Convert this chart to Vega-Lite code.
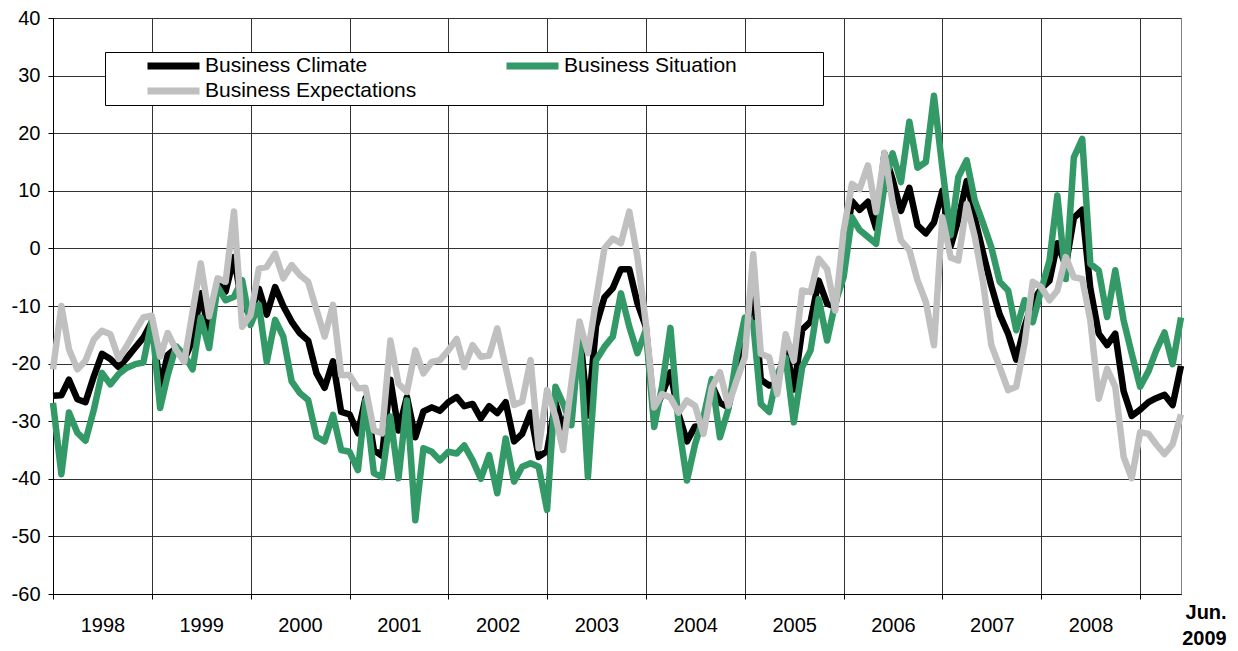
{
  "$schema": "https://vega.github.io/schema/vega-lite/v6.json",
  "width": 1128,
  "height": 576,
  "autosize": {"type": "none"},
  "padding": {"left": 53, "top": 18, "right": 57, "bottom": 57},
  "background": "#ffffff",
  "config": {"view": {"stroke": "#808080", "strokeWidth": 1}, "font": "Liberation Sans"},
  "data": {
    "format": {"parse": {"m": "date"}},
    "values": [
      {"m": "1998-01-01", "climate": -25.6, "situation": -26.8, "expectations": -21},
      {"m": "1998-02-01", "climate": -25.5, "situation": -39.2, "expectations": -10},
      {"m": "1998-03-01", "climate": -22.8, "situation": -28.5, "expectations": -17.5},
      {"m": "1998-04-01", "climate": -26.2, "situation": -32, "expectations": -21},
      {"m": "1998-05-01", "climate": -26.7, "situation": -33.4, "expectations": -19.5},
      {"m": "1998-06-01", "climate": -22.2, "situation": -28, "expectations": -15.8},
      {"m": "1998-07-01", "climate": -18.3, "situation": -21.6, "expectations": -14.3},
      {"m": "1998-08-01", "climate": -19.2, "situation": -23.6, "expectations": -14.9},
      {"m": "1998-09-01", "climate": -20.6, "situation": -21.8, "expectations": -19.2},
      {"m": "1998-10-01", "climate": -19, "situation": -20.7, "expectations": -16.9},
      {"m": "1998-11-01", "climate": -17.2, "situation": -20.1, "expectations": -14.3},
      {"m": "1998-12-01", "climate": -15.5, "situation": -19.8, "expectations": -12},
      {"m": "1999-01-01", "climate": -12.8, "situation": -12.6, "expectations": -11.7},
      {"m": "1999-02-01", "climate": -24, "situation": -27.7, "expectations": -18.8},
      {"m": "1999-03-01", "climate": -18.5, "situation": -22, "expectations": -14.7},
      {"m": "1999-04-01", "climate": -17.3, "situation": -17, "expectations": -17.6},
      {"m": "1999-05-01", "climate": -19.3, "situation": -18.5, "expectations": -19.7},
      {"m": "1999-06-01", "climate": -16, "situation": -21, "expectations": -11},
      {"m": "1999-07-01", "climate": -7.8, "situation": -12, "expectations": -2.6},
      {"m": "1999-08-01", "climate": -14.5, "situation": -17.3, "expectations": -11.8},
      {"m": "1999-09-01", "climate": -6, "situation": -6.6, "expectations": -5.2},
      {"m": "1999-10-01", "climate": -7.5, "situation": -9, "expectations": -5.8},
      {"m": "1999-11-01", "climate": -1.5, "situation": -8.4, "expectations": 6.4},
      {"m": "1999-12-01", "climate": -9.8, "situation": -5.5, "expectations": -13.6},
      {"m": "2000-01-01", "climate": -11.5, "situation": -13.3, "expectations": -11.6},
      {"m": "2000-02-01", "climate": -7, "situation": -9.8, "expectations": -3.5},
      {"m": "2000-03-01", "climate": -11.5, "situation": -19.7, "expectations": -3.2},
      {"m": "2000-04-01", "climate": -6.7, "situation": -12.4, "expectations": -0.9},
      {"m": "2000-05-01", "climate": -10, "situation": -15.3, "expectations": -5.2},
      {"m": "2000-06-01", "climate": -12.7, "situation": -23.1, "expectations": -2.9},
      {"m": "2000-07-01", "climate": -14.7, "situation": -25.1, "expectations": -4.6},
      {"m": "2000-08-01", "climate": -16, "situation": -26.3, "expectations": -5.8},
      {"m": "2000-09-01", "climate": -21.7, "situation": -32.7, "expectations": -10.7},
      {"m": "2000-10-01", "climate": -24.2, "situation": -33.5, "expectations": -15.3},
      {"m": "2000-11-01", "climate": -19.6, "situation": -28.9, "expectations": -9.8},
      {"m": "2000-12-01", "climate": -28.4, "situation": -35, "expectations": -22},
      {"m": "2001-01-01", "climate": -28.8, "situation": -35.3, "expectations": -22},
      {"m": "2001-02-01", "climate": -32.1, "situation": -38.5, "expectations": -24.3},
      {"m": "2001-03-01", "climate": -26, "situation": -26.4, "expectations": -24.2},
      {"m": "2001-04-01", "climate": -35, "situation": -39, "expectations": -31.6},
      {"m": "2001-05-01", "climate": -36, "situation": -39.7, "expectations": -32.1},
      {"m": "2001-06-01", "climate": -22.8, "situation": -29.2, "expectations": -16},
      {"m": "2001-07-01", "climate": -31.6, "situation": -39.9, "expectations": -23.5},
      {"m": "2001-08-01", "climate": -25.8, "situation": -26.4, "expectations": -24.9},
      {"m": "2001-09-01", "climate": -32.8, "situation": -47.2, "expectations": -17.7},
      {"m": "2001-10-01", "climate": -28.3, "situation": -34.7, "expectations": -21.7},
      {"m": "2001-11-01", "climate": -27.6, "situation": -35.3, "expectations": -19.7},
      {"m": "2001-12-01", "climate": -28.2, "situation": -36.8, "expectations": -19.4},
      {"m": "2002-01-01", "climate": -26.7, "situation": -35.3, "expectations": -17.7},
      {"m": "2002-02-01", "climate": -25.8, "situation": -35.6, "expectations": -15.7},
      {"m": "2002-03-01", "climate": -27.4, "situation": -34.2, "expectations": -20.6},
      {"m": "2002-04-01", "climate": -27, "situation": -36.8, "expectations": -16.8},
      {"m": "2002-05-01", "climate": -29.5, "situation": -40, "expectations": -18.8},
      {"m": "2002-06-01", "climate": -27.4, "situation": -35.9, "expectations": -18.6},
      {"m": "2002-07-01", "climate": -28.6, "situation": -42.5, "expectations": -13.9},
      {"m": "2002-08-01", "climate": -26.7, "situation": -33, "expectations": -20.6},
      {"m": "2002-09-01", "climate": -33.5, "situation": -40.5, "expectations": -27.2},
      {"m": "2002-10-01", "climate": -32.2, "situation": -37.9, "expectations": -26.6},
      {"m": "2002-11-01", "climate": -28.5, "situation": -37.3, "expectations": -19.4},
      {"m": "2002-12-01", "climate": -36.2, "situation": -37.9, "expectations": -34.7},
      {"m": "2003-01-01", "climate": -35.2, "situation": -45.4, "expectations": -24.6},
      {"m": "2003-02-01", "climate": -26.8, "situation": -24, "expectations": -29.2},
      {"m": "2003-03-01", "climate": -31.3, "situation": -26.9, "expectations": -35},
      {"m": "2003-04-01", "climate": -26.5, "situation": -30.7, "expectations": -23.4},
      {"m": "2003-05-01", "climate": -14, "situation": -14.8, "expectations": -12.7},
      {"m": "2003-06-01", "climate": -29, "situation": -39.7, "expectations": -18.2},
      {"m": "2003-07-01", "climate": -13.5, "situation": -19.4, "expectations": -9},
      {"m": "2003-08-01", "climate": -8.5, "situation": -17.1, "expectations": 0},
      {"m": "2003-09-01", "climate": -6.9, "situation": -15.3, "expectations": 1.7},
      {"m": "2003-10-01", "climate": -3.6, "situation": -7.8, "expectations": 0.9},
      {"m": "2003-11-01", "climate": -3.6, "situation": -13.6, "expectations": 6.4},
      {"m": "2003-12-01", "climate": -9.5, "situation": -18.2, "expectations": -1.5},
      {"m": "2004-01-01", "climate": -13.6, "situation": -14.2, "expectations": -13},
      {"m": "2004-02-01", "climate": -28.5, "situation": -31, "expectations": -27.6},
      {"m": "2004-03-01", "climate": -25.3, "situation": -24, "expectations": -25.3},
      {"m": "2004-04-01", "climate": -21.5, "situation": -13.8, "expectations": -25.9},
      {"m": "2004-05-01", "climate": -28.8, "situation": -30.5, "expectations": -28.5},
      {"m": "2004-06-01", "climate": -33.5, "situation": -40.3, "expectations": -26.4},
      {"m": "2004-07-01", "climate": -30.9, "situation": -34, "expectations": -27.3},
      {"m": "2004-08-01", "climate": -31, "situation": -29.3, "expectations": -32.2},
      {"m": "2004-09-01", "climate": -23.7, "situation": -22.7, "expectations": -24.1},
      {"m": "2004-10-01", "climate": -26.8, "situation": -32.8, "expectations": -21.5},
      {"m": "2004-11-01", "climate": -27.6, "situation": -27.9, "expectations": -27.3},
      {"m": "2004-12-01", "climate": -21.5, "situation": -18.9, "expectations": -23},
      {"m": "2005-01-01", "climate": -15.7, "situation": -12, "expectations": -18.9},
      {"m": "2005-02-01", "climate": -7, "situation": -13, "expectations": -1},
      {"m": "2005-03-01", "climate": -22.8, "situation": -27, "expectations": -18.3},
      {"m": "2005-04-01", "climate": -23.8, "situation": -28.4, "expectations": -18.9},
      {"m": "2005-05-01", "climate": -23.5, "situation": -21.8, "expectations": -25.3},
      {"m": "2005-06-01", "climate": -17, "situation": -19, "expectations": -14.9},
      {"m": "2005-07-01", "climate": -24.5, "situation": -30.2, "expectations": -19.5},
      {"m": "2005-08-01", "climate": -14.1, "situation": -20.6, "expectations": -7.3},
      {"m": "2005-09-01", "climate": -12.7, "situation": -17.7, "expectations": -7.6},
      {"m": "2005-10-01", "climate": -5.6, "situation": -8.8, "expectations": -1.8},
      {"m": "2005-11-01", "climate": -9.6, "situation": -16, "expectations": -3.6},
      {"m": "2005-12-01", "climate": -10.1, "situation": -9.5, "expectations": -10.8},
      {"m": "2006-01-01", "climate": -1, "situation": -5, "expectations": 3},
      {"m": "2006-02-01", "climate": 8.2, "situation": 5.4, "expectations": 11.2},
      {"m": "2006-03-01", "climate": 6.7, "situation": 3.2, "expectations": 10.3},
      {"m": "2006-04-01", "climate": 8.1, "situation": 2, "expectations": 14.4},
      {"m": "2006-05-01", "climate": 3.5, "situation": 0.8, "expectations": 6.3},
      {"m": "2006-06-01", "climate": 16.5, "situation": 11, "expectations": 16.6},
      {"m": "2006-07-01", "climate": 12, "situation": 16.5, "expectations": 8},
      {"m": "2006-08-01", "climate": 6.5, "situation": 11.5, "expectations": 1.4},
      {"m": "2006-09-01", "climate": 10.5, "situation": 22, "expectations": -0.3},
      {"m": "2006-10-01", "climate": 4, "situation": 14, "expectations": -5.5},
      {"m": "2006-11-01", "climate": 2.6, "situation": 15, "expectations": -9.3},
      {"m": "2006-12-01", "climate": 4.5, "situation": 26.5, "expectations": -16.8},
      {"m": "2007-01-01", "climate": 10, "situation": 14, "expectations": 5.4},
      {"m": "2007-02-01", "climate": 0.4, "situation": 2.3, "expectations": -1.6},
      {"m": "2007-03-01", "climate": 5, "situation": 12.4, "expectations": -2.1},
      {"m": "2007-04-01", "climate": 11.7, "situation": 15.3, "expectations": 7.7},
      {"m": "2007-05-01", "climate": 5.2, "situation": 8.3, "expectations": 2},
      {"m": "2007-06-01", "climate": -0.9, "situation": 4.3, "expectations": -6},
      {"m": "2007-07-01", "climate": -6.5, "situation": 0.2, "expectations": -16.8},
      {"m": "2007-08-01", "climate": -11.5, "situation": -5.8, "expectations": -20.6},
      {"m": "2007-09-01", "climate": -14.8, "situation": -7.3, "expectations": -24.6},
      {"m": "2007-10-01", "climate": -19.3, "situation": -14.2, "expectations": -24},
      {"m": "2007-11-01", "climate": -13.5, "situation": -9, "expectations": -16.5},
      {"m": "2007-12-01", "climate": -9.2, "situation": -12.8, "expectations": -5.8},
      {"m": "2008-01-01", "climate": -7, "situation": -7.3, "expectations": -6.7},
      {"m": "2008-02-01", "climate": -5.6, "situation": -2.1, "expectations": -9},
      {"m": "2008-03-01", "climate": 0.9, "situation": 9.2, "expectations": -7.3},
      {"m": "2008-04-01", "climate": -3, "situation": -5.3, "expectations": -1.5},
      {"m": "2008-05-01", "climate": 5.3, "situation": 15.8, "expectations": -5},
      {"m": "2008-06-01", "climate": 6.7, "situation": 19, "expectations": -5.3},
      {"m": "2008-07-01", "climate": -7, "situation": -2.7, "expectations": -12.5},
      {"m": "2008-08-01", "climate": -14.8, "situation": -3.8, "expectations": -26.1},
      {"m": "2008-09-01", "climate": -16.8, "situation": -11.9, "expectations": -20.9},
      {"m": "2008-10-01", "climate": -14.8, "situation": -3.8, "expectations": -24},
      {"m": "2008-11-01", "climate": -24.8, "situation": -12.5, "expectations": -36.2},
      {"m": "2008-12-01", "climate": -29.1, "situation": -18.3, "expectations": -39.9},
      {"m": "2009-01-01", "climate": -28, "situation": -24, "expectations": -31.9},
      {"m": "2009-02-01", "climate": -26.7, "situation": -21.3, "expectations": -32.2},
      {"m": "2009-03-01", "climate": -26, "situation": -17.8, "expectations": -34},
      {"m": "2009-04-01", "climate": -25.4, "situation": -14.6, "expectations": -35.7},
      {"m": "2009-05-01", "climate": -27.2, "situation": -20.1, "expectations": -34},
      {"m": "2009-06-01", "climate": -20.4, "situation": -12, "expectations": -28.8}
    ]
  },
  "transform": [{"fold": ["climate", "situation", "expectations"], "as": ["series", "value"]}],
  "mark": {"type": "line", "strokeWidth": 6.5, "strokeJoin": "round"},
  "encoding": {
    "x": {
      "field": "m",
      "type": "temporal",
      "scale": {
        "type": "utc",
        "domain": [{"year": 1998, "month": 1, "date": 1, "utc": true}, {"year": 2009, "month": 6, "date": 1, "utc": true}]
      },
      "axis": {
        "title": null,
        "values": [
          {"year": 1998, "month": 1, "date": 1, "utc": true},
          {"year": 1999, "month": 1, "date": 1, "utc": true},
          {"year": 2000, "month": 1, "date": 1, "utc": true},
          {"year": 2001, "month": 1, "date": 1, "utc": true},
          {"year": 2002, "month": 1, "date": 1, "utc": true},
          {"year": 2003, "month": 1, "date": 1, "utc": true},
          {"year": 2004, "month": 1, "date": 1, "utc": true},
          {"year": 2005, "month": 1, "date": 1, "utc": true},
          {"year": 2006, "month": 1, "date": 1, "utc": true},
          {"year": 2007, "month": 1, "date": 1, "utc": true},
          {"year": 2008, "month": 1, "date": 1, "utc": true},
          {"year": 2009, "month": 1, "date": 1, "utc": true}
        ],
        "grid": true,
        "gridColor": "#333333",
        "gridWidth": 1,
        "domainColor": "#000000",
        "tickColor": "#000000",
        "tickSize": 5,
        "labelOffset": {"condition": {"test": "utcyear(datum.value) == 2009", "value": 86}, "value": 49.4},
        "labelPadding": {"condition": {"test": "utcyear(datum.value) == 2009", "value": 13}, "value": 26},
        "labelBaseline": "middle",
        "labelLineHeight": 26,
        "labelFont": "Liberation Sans",
        "labelFontSize": 20,
        "labelColor": "#000000",
        "labelOverlap": false,
        "labelFlush": false,
        "labelBound": false,
        "labelExpr": "utcyear(datum.value) == 2009 ? ['Jun.', '2009'] : utcFormat(datum.value, '%Y')",
        "labelAlign": {"condition": {"test": "utcyear(datum.value) == 2009", "value": "right"}, "value": "center"},
        "labelFontWeight": {"condition": {"test": "utcyear(datum.value) == 2009", "value": "bold"}, "value": "normal"}
      }
    },
    "y": {
      "field": "value",
      "type": "quantitative",
      "scale": {"domain": [-60, 40], "nice": false, "zero": false},
      "axis": {
        "title": null,
        "values": [-60, -50, -40, -30, -20, -10, 0, 10, 20, 30, 40],
        "grid": true,
        "gridColor": "#333333",
        "gridWidth": 1,
        "domainColor": "#000000",
        "tickColor": "#000000",
        "tickSize": 5,
        "labelPadding": 8,
        "labelFont": "Liberation Sans",
        "labelFontSize": 20,
        "labelColor": "#000000",
        "labelExpr": "datum.value < 0 ? '-' + abs(datum.value) : '' + datum.value"
      }
    },
    "color": {
      "field": "series",
      "type": "nominal",
      "scale": {"domain": ["climate", "expectations", "situation"], "range": ["#000000", "#c0c0c0", "#339966"]},
      "legend": {
        "title": null,
        "orient": "none",
        "legendX": 52,
        "legendY": 34,
        "columns": 2,
        "columnPadding": 51,
        "rowPadding": 4,
        "padding": 4,
        "symbolType": "stroke",
        "symbolSize": 2704,
        "symbolStrokeWidth": 7,
        "symbolOffset": 35,
        "labelOffset": 2,
        "clipHeight": 20,
        "labelFont": "Liberation Sans",
        "labelFontSize": 21,
        "labelColor": "#000000",
        "labelLimit": 600,
        "strokeColor": "#000000",
        "fillColor": "#ffffff",
        "labelExpr": "datum.label == 'climate' ? 'Business Climate' : datum.label == 'situation' ? 'Business Situation              \u200b' : 'Business Expectations'"
      }
    }
  }
}
